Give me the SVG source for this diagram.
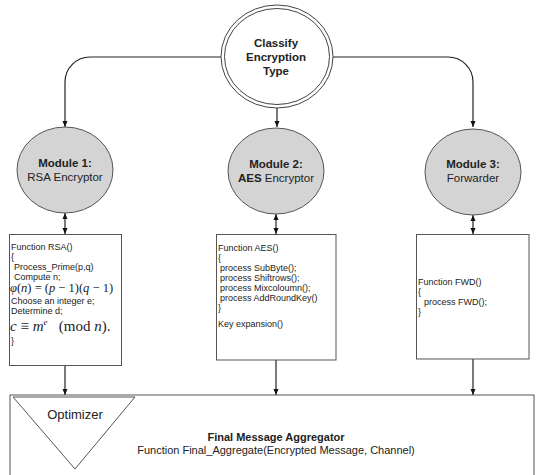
<svg xmlns="http://www.w3.org/2000/svg" width="536" height="475" viewBox="0 0 536 475">
<defs>
<marker id="ah" markerWidth="6" markerHeight="6" refX="6" refY="3" orient="auto-start-reverse" markerUnits="userSpaceOnUse">
<path d="M0,0.5 L6,3 L0,5.5 z" fill="#111"/>
</marker>
<style>
.t{font-family:"Liberation Sans",Arial,sans-serif;fill:#222}
.b{font-weight:bold}
.m{font-family:"Liberation Serif","Times New Roman",serif;fill:#222}
.ln{fill:none;stroke:#222;stroke-width:1.2}
.mod{fill:#d4d4d4;stroke:#555;stroke-width:1}
.box{fill:#fff;stroke:#555;stroke-width:1}
.c{font-family:"Liberation Sans",Arial,sans-serif;fill:#222;font-size:9px}
</style>
</defs>
<rect width="536" height="475" fill="#fff"/>

<g id="connectors">
<path class="ln" d="M221,57 H90 A25,25 0 0 0 65,82 V127" marker-end="url(#ah)"/>
<path class="ln" d="M333,57 H448 A25,25 0 0 1 473,82 V127" marker-end="url(#ah)"/>
<path class="ln" d="M277,108 V127" marker-end="url(#ah)"/>
<path class="ln" d="M65,213 V234" marker-start="url(#ah)" marker-end="url(#ah)"/>
<path class="ln" d="M276,214 V234" marker-start="url(#ah)" marker-end="url(#ah)"/>
<path class="ln" d="M473,215 V234" marker-start="url(#ah)" marker-end="url(#ah)"/>
<path class="ln" d="M65,366 V395" marker-end="url(#ah)"/>
<path class="ln" d="M276,360 V395" marker-end="url(#ah)"/>
<path class="ln" d="M473,359 V395" marker-end="url(#ah)"/>
</g>

<g id="classify">
<ellipse cx="277" cy="56.5" rx="56" ry="51.5" fill="#fff" stroke="#444" stroke-width="1"/>
<ellipse cx="277" cy="56.5" rx="52.5" ry="48" fill="none" stroke="#444" stroke-width="1"/>
<text class="t b" font-size="11.5" text-anchor="middle" x="276"><tspan x="276" y="47">Classify</tspan><tspan x="276" y="61">Encryption</tspan><tspan x="276" y="75">Type</tspan></text>
</g>

<g id="module1">
<ellipse class="mod" cx="65" cy="170" rx="48" ry="43"/>
<text class="t" font-size="11.5" text-anchor="middle"><tspan class="b" x="65" y="167">Module 1:</tspan><tspan x="65" y="181">RSA Encryptor</tspan></text>
</g>

<g id="module2">
<ellipse class="mod" cx="276" cy="171" rx="48" ry="43"/>
<text class="t" font-size="11.5" text-anchor="middle"><tspan class="b" x="276" y="168">Module 2:</tspan><tspan x="276" y="182"><tspan class="b">AES</tspan> Encryptor</tspan></text>
</g>

<g id="module3">
<ellipse class="mod" cx="473" cy="172" rx="48" ry="43"/>
<text class="t" font-size="11.5" text-anchor="middle"><tspan class="b" x="473" y="168">Module 3:</tspan><tspan x="473" y="182">Forwarder</tspan></text>
</g>

<g id="rsa">
<rect class="box" x="9.5" y="234.5" width="112" height="131"/>
<text class="c"><tspan x="11" y="250">Function RSA()</tspan><tspan x="11" y="260">{</tspan><tspan x="14" y="270">Process_Prime(p,q)</tspan><tspan x="14" y="280">Compute n;</tspan></text>
<text class="m" font-size="12.5" x="10" y="292"><tspan font-style="italic">φ</tspan>(<tspan font-style="italic">n</tspan>) = (<tspan font-style="italic">p</tspan> − 1)(<tspan font-style="italic">q</tspan> − 1)</text>
<text class="c"><tspan x="11" y="304">Choose an integer e;</tspan><tspan x="11" y="314">Determine d;</tspan></text>
<text class="m" font-size="15" x="10" y="331"><tspan font-style="italic">c</tspan> ≡ <tspan font-style="italic">m</tspan><tspan font-style="italic" font-size="9" dy="-6">e</tspan><tspan dy="6" xml:space="preserve">   (mod </tspan><tspan font-style="italic">n</tspan>).</text>
<text class="c" x="11" y="344">}</text>
</g>

<g id="aes">
<rect class="box" x="216.5" y="234.5" width="119.5" height="125.5"/>
<text class="c"><tspan x="218" y="251">Function AES()</tspan><tspan x="218" y="261">{</tspan><tspan x="220" y="271">process SubByte();</tspan><tspan x="220" y="281">process Shiftrows();</tspan><tspan x="220" y="291">process Mixcoloumn();</tspan><tspan x="220" y="301">process AddRoundKey()</tspan><tspan x="218" y="311">}</tspan><tspan x="218" y="327">Key expansion()</tspan></text>
</g>

<g id="fwd">
<rect class="box" x="416.5" y="234.5" width="112.5" height="124.5"/>
<text class="c"><tspan x="418" y="285">Function FWD()</tspan><tspan x="418" y="295">{</tspan><tspan x="424" y="305">process FWD();</tspan><tspan x="418" y="315">}</tspan></text>
</g>

<g id="aggregator">
<rect x="10" y="395" width="524" height="100" fill="#fff" stroke="#555" stroke-width="1"/>
<path d="M13,397 L135,397 L75,469 z" fill="#fff" stroke="#555" stroke-width="1"/>
<text class="t" font-size="13" text-anchor="middle" x="75" y="419">Optimizer</text>
<text class="t b" font-size="11" text-anchor="middle" x="276" y="441">Final Message Aggregator</text>
<text class="t" font-size="11" text-anchor="middle" x="276" y="454">Function Final_Aggregate(Encrypted Message, Channel)</text>
</g>
</svg>
